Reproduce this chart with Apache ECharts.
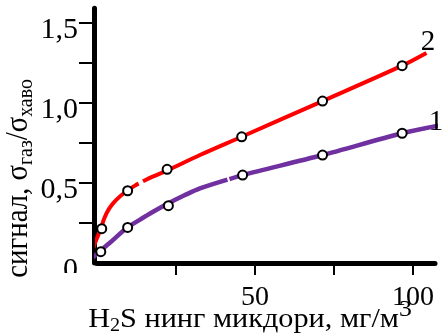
<!DOCTYPE html>
<html>
<head>
<meta charset="utf-8">
<script src="https://cdn.jsdelivr.net/npm/echarts@6/dist/echarts.min.js"></script>
<style>
  html, body { margin: 0; padding: 0; background: #fff; }
  #chart { width: 446px; height: 334px; }
</style>
</head>
<body>
<div id="chart"></div>
<script>
// Axis ticks and labels
const xTicks = [25, 50, 75, 100];
const xTickLabels = [50, 100];
const yTicks = [0.25, 0.5, 0.75, 1.0, 1.25, 1.5];
const yTickLabels = [0, 0.5, 1.0, 1.5];

// Measured points (H2S concentration, mg/m3 -> signal ratio)
const pointsX2 = [1.5, 9.7, 22.2, 45.8, 71.4, 96.6];
const pointsY2 = [0.214, 0.451, 0.585, 0.788, 1.011, 1.232];
const pointsX1 = [1.2, 9.7, 22.6, 46.1, 71.4, 96.6];
const pointsY1 = [0.071, 0.222, 0.358, 0.549, 0.674, 0.810];

// Fitted curves; null marks a break in the line
const curveX2 = [-2.4, -0.85, 1.27, 2.31, 3.89, 6.01, 9.49, 12.34, 13.2, 13.9, 14.56, 17.63, 22.15, 32.59, 45.79, 71.42, 96.61, 104.3];
const curveY2 = [0.008, 0.112, 0.217, 0.279, 0.341, 0.393, 0.451, 0.487, 0.495, null, 0.51, 0.539, 0.577, 0.674, 0.788, 1.011, 1.232, 1.311];
const curveX1 = [-1.58, 0.73, 3.89, 9.49, 13.39, 17.63, 22.47, 27.85, 32.59, 41.3, 41.6, 41.93, 46.11, 71.42, 96.61, 109.08];
const curveY1 = [0.029, 0.071, 0.123, 0.22, 0.268, 0.318, 0.371, 0.424, 0.466, 0.521, null, 0.524, 0.549, 0.674, 0.81, 0.861];

const SERIF = 'Liberation Serif';

const zip = (xs, ys) => xs.map((x, i) => (ys[i] == null ? [x, '-'] : [x, ys[i]]));
const fmtY = v => (v === 0 ? '0' : v.toFixed(1).replace('.', ','));

const chart = echarts.init(document.getElementById('chart'), null, { renderer: 'canvas' });

const marker = {
  type: 'scatter',
  symbol: 'circle',
  symbolSize: 9,
  clip: false,
  itemStyle: { color: '#fff', opacity: 1, borderColor: '#000', borderWidth: 2 },
  z: 5
};

chart.setOption({
  animation: false,
  backgroundColor: '#fff',
  textStyle: { fontFamily: SERIF },
  grid: { left: 97, right: 11, top: 8.3, bottom: 71, containLabel: false, outerBoundsMode: 'none' },
  xAxis: {
    type: 'value',
    min: 0,
    max: 107,
    splitLine: { show: false },
    axisLine: { show: true, onZero: false, lineStyle: { color: '#000', width: 5 } },
    axisTick: { show: true, customValues: xTicks, length: 12, lineStyle: { color: '#000', width: 2 } },
    axisLabel: {
      customValues: xTickLabels,
      margin: 21,
      color: '#000',
      fontFamily: SERIF,
      fontSize: 28,
      formatter: v => String(v)
    }
  },
  yAxis: {
    type: 'value',
    min: 0,
    max: 1.59,
    offset: 3,
    splitLine: { show: false },
    axisLine: { show: true, onZero: false, lineStyle: { color: '#000', width: 5 } },
    axisTick: { show: true, customValues: yTicks, length: 15, lineStyle: { color: '#000', width: 2 } },
    axisLabel: {
      customValues: yTickLabels,
      margin: 16,
      verticalAlign: 'top',
      lineHeight: 14,
      color: '#000',
      fontFamily: SERIF,
      fontSize: 30,
      formatter: fmtY
    }
  },
  series: [
    {
      name: '2',
      type: 'line',
      data: zip(curveX2, curveY2),
      smooth: 0.3,
      connectNulls: false,
      clip: false,
      symbol: 'none',
      lineStyle: { color: '#ff0000', width: 4 },
      z: 3
    },
    {
      name: '1',
      type: 'line',
      data: zip(curveX1, curveY1),
      smooth: 0.3,
      connectNulls: false,
      clip: false,
      symbol: 'none',
      lineStyle: { color: '#7030a0', width: 4.5 },
      z: 3
    },
    Object.assign({ data: zip(pointsX2, pointsY2) }, marker),
    Object.assign({ data: zip(pointsX1, pointsY1) }, marker)
  ],
  graphic: [
    {
      // lower half of the "0" tick label is cut off
      type: 'rect',
      shape: { x: 58, y: 273, width: 30, height: 20 },
      style: { fill: '#fff' },
      z: 100
    },
    {
      type: 'text',
      x: 18.5,
      y: 178.5,
      rotation: Math.PI / 2,
      scaleX: 0.9,
      z: 100,
      style: {
        text: '{m|сигнал, σ}{sub|газ}{m|/σ}{sub|хаво}',
        fill: '#000',
        fontFamily: SERIF,
        fontSize: 32,
        align: 'center',
        verticalAlign: 'middle',
        rich: {
          m: { fontSize: 32, fontFamily: SERIF, fill: '#000' },
          sub: { fontSize: 22, fontFamily: SERIF, fill: '#000', padding: [16, 0, 0, 0] }
        }
      }
    },
    {
      type: 'text',
      x: 250,
      y: 320,
      scaleX: 1.12,
      z: 100,
      style: {
        text: '{m|H}{sub|2}{m|S нинг микдори, мг/м}{sup|3}',
        fill: '#000',
        fontFamily: SERIF,
        fontSize: 27,
        align: 'center',
        verticalAlign: 'middle',
        rich: {
          m: { fontSize: 27, fontFamily: SERIF, fill: '#000' },
          sub: { fontSize: 18, fontFamily: SERIF, fill: '#000', padding: [13, 0, 0, 0] },
          sup: { fontSize: 23, fontFamily: SERIF, fill: '#000', padding: [0, 0, 21, 0] }
        }
      }
    },
    {
      type: 'text',
      x: 428,
      y: 42,
      z: 100,
      style: { text: '2', fill: '#000', fontFamily: SERIF, fontSize: 29, align: 'center', verticalAlign: 'middle' }
    },
    {
      type: 'text',
      x: 436,
      y: 122,
      z: 100,
      style: { text: '1', fill: '#000', fontFamily: SERIF, fontSize: 29, align: 'center', verticalAlign: 'middle' }
    }
  ]
});
</script>
</body>
</html>
